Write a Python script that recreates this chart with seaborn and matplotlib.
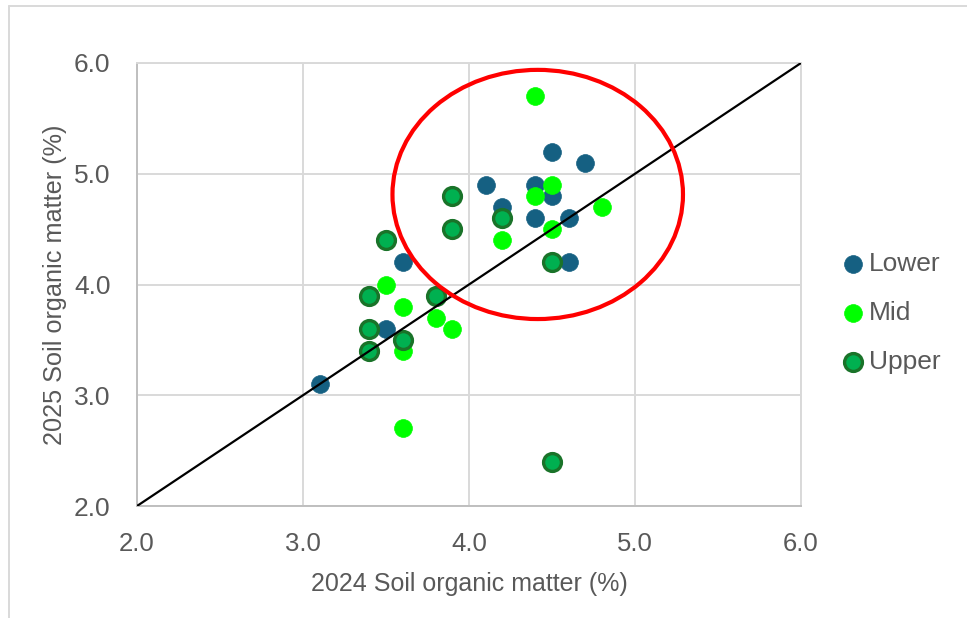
import numpy as np
import pandas as pd
import matplotlib
matplotlib.use('Agg')
import matplotlib.pyplot as plt
from matplotlib import font_manager
from matplotlib.patches import Ellipse
from matplotlib.lines import Line2D
import seaborn as sns

# soil organic matter, 2024 vs 2025, by slope position
lower_2024 = [3.1, 3.5, 3.6, 4.1, 4.2, 4.4, 4.4, 4.5, 4.5, 4.6, 4.6, 4.7]
lower_2025 = [3.1, 3.6, 4.2, 4.9, 4.7, 4.9, 4.6, 5.2, 4.8, 4.6, 4.2, 5.1]

mid_2024 = [3.5, 3.6, 3.6, 3.6, 3.8, 3.9, 4.2, 4.4, 4.4, 4.5, 4.5, 4.8]
mid_2025 = [4.0, 3.8, 3.4, 2.7, 3.7, 3.6, 4.4, 5.7, 4.8, 4.9, 4.5, 4.7]

upper_2024 = [3.4, 3.4, 3.4, 3.5, 3.6, 3.8, 3.9, 3.9, 4.2, 4.5, 4.5]
upper_2025 = [3.9, 3.6, 3.4, 4.4, 3.5, 3.9, 4.8, 4.5, 4.6, 4.2, 2.4]

groups = ['Lower', 'Mid', 'Upper']
ticks = [2.0, 3.0, 4.0, 5.0, 6.0]
one_to_one = [2.0, 6.0]

# highlighted cluster (data units)
ring_center = (4.414, 4.813)
ring_width = 1.75
ring_height = 2.25

df = pd.concat([
    pd.DataFrame({'x': lower_2024, 'y': lower_2025, 'pos': 'Lower'}),
    pd.DataFrame({'x': mid_2024, 'y': mid_2025, 'pos': 'Mid'}),
    pd.DataFrame({'x': upper_2024, 'y': upper_2025, 'pos': 'Upper'}),
], ignore_index=True)

sns.set_style('white')
installed = {f.name for f in font_manager.fontManager.ttflist}
narrow = 'Liberation Sans Narrow' if 'Liberation Sans Narrow' in installed else 'Liberation Sans'
plt.rcParams['font.family'] = ['Liberation Sans', 'DejaVu Sans']

txt = '#595959'
grid_c = '#D9D9D9'

fig = plt.figure(figsize=(9.67, 6.18), dpi=100)
ax = fig.add_axes([137/967, 1 - 506/618, (801-137)/967, (506-63)/618])

styles = {
    'Lower': dict(color='#156082', edgecolor='#156082', linewidth=0.5),
    'Mid':   dict(color='#00FF00', edgecolor='#00FF00', linewidth=0.5),
    'Upper': dict(color='#00B050', edgecolor='#1A7329', linewidth=2.4),
}
for g in groups:
    sub = df[df['pos'] == g]
    sns.scatterplot(data=sub, x='x', y='y', s=165, label=g, ax=ax,
                    zorder=3, **styles[g])

ax.plot(one_to_one, one_to_one, color='black', lw=1.6, zorder=4)
ax.add_patch(Ellipse(ring_center, ring_width, ring_height, fill=False,
                     edgecolor='#FF0000', lw=3, zorder=5))

ax.set_xlim(2, 6); ax.set_ylim(2, 6)
ax.set_xticks(ticks); ax.set_yticks(ticks)
ax.set_xticklabels([f'{t:.1f}' for t in ticks], family=narrow, fontsize=18.5, color=txt)
ax.set_yticklabels([f'{t:.1f}' for t in ticks], fontsize=19, color=txt)
ax.tick_params(length=0)
ax.tick_params(axis='x', pad=19)
ax.tick_params(axis='y', pad=19)
ax.grid(True, color=grid_c, lw=1.4)
ax.set_axisbelow(True)
for side in ['top', 'right']:
    ax.spines[side].set_color(grid_c)
    ax.spines[side].set_linewidth(1.4)
for side in ['left', 'bottom']:
    ax.spines[side].set_color('#BFBFBF')
    ax.spines[side].set_linewidth(1.4)

ax.set_xlabel('2024 Soil organic matter (%)', family=narrow, fontsize=18, color=txt, labelpad=11)
ax.set_ylabel('2025 Soil organic matter (%)', fontsize=18.2, color=txt, labelpad=5)

ax.legend(loc='center left', bbox_to_anchor=(842/967, 1 - 313/618),
          bbox_transform=fig.transFigure, frameon=False, fontsize=19,
          labelcolor=txt, borderpad=0, borderaxespad=0, handlelength=0.8,
          handletextpad=0.22, labelspacing=0.94, markerscale=1.0)

# chart frame (only left and top visible in the crop)
fig.add_artist(Line2D([8.5/967, 8.5/967], [0, 1 - 6/618], color=grid_c, lw=1.4,
                      transform=fig.transFigure))
fig.add_artist(Line2D([8.5/967, 1.0], [1 - 6/618, 1 - 6/618], color=grid_c, lw=1.4,
                      transform=fig.transFigure))

fig.savefig('out.png', dpi=100)
